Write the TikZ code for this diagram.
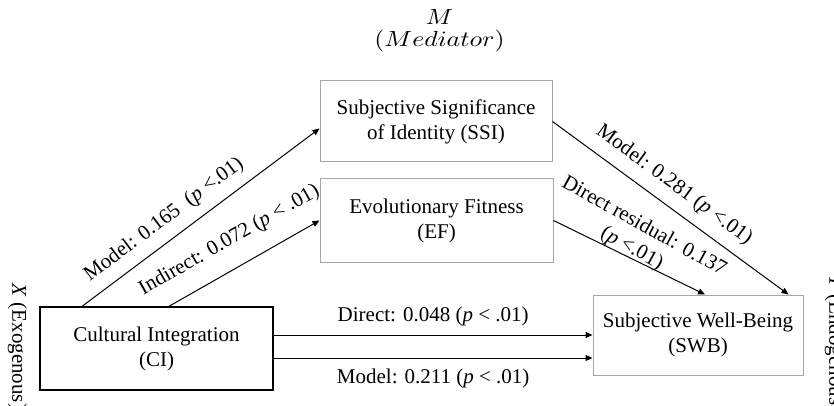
\documentclass[tikz,border=0pt]{standalone}
\usepackage{fontspec}
\usepackage{graphicx}
\setmainfont{Liberation Serif}
\usetikzlibrary{arrows.meta,calc}
\begin{document}
\begin{tikzpicture}[x=0.5pt,y=-0.5pt,
  every node/.style={font=\fontsize{10.5}{12.5}\selectfont},
  graybox/.style={draw=gray!70, line width=0.5pt, align=center, inner sep=0pt},
  blackbox/.style={draw=black, line width=0.8pt, align=center, inner sep=0pt},
  conn/.style={draw=black, line width=0.5pt, -{Triangle[length=3.5pt,width=3pt]}},
  lbl/.style={inner sep=0pt, sloped, align=center}]
\useasboundingbox (0,0) rectangle (834,406);
% boxes
\node[graybox, minimum width=116pt, minimum height=40.5pt] (ssi) at (436,121.5) {Subjective Significance\\of Identity (SSI)};
\node[graybox, minimum width=116.5pt, minimum height=41.5pt] (ef) at (436.5,220.5) {Evolutionary Fitness\\(EF)};
\node[blackbox, minimum width=116.5pt, minimum height=41.5pt] (ci) at (156.5,348.5) {Cultural Integration\\(CI)};
\node[graybox, minimum width=105pt, minimum height=40pt] (swb) at (698,335) {Subjective Well-Being\\(SWB)};
% side labels
\node[align=center, font=\fontsize{11}{11}\selectfont] (med) at (439.5,31) {\scalebox{1.15}[1]{$M$}\\\scalebox{1.18}[1]{$(Mediator)$}};
\node[rotate=-90, inner sep=0pt] (xlab) at (17.5,347) {\textit{X} (Exogenous)};
\node[rotate=-90, inner sep=0pt] (ylab) at (834.5,344) {\textit{Y} (Endogenous)};
% connectors
\draw[conn] ($(ci.north west)+(43,0)$) -- ($(ssi.west)+(0,7)$)
  node[lbl, pos=0.396, above=5pt] {Model: 0.165\ \ (\textit{p} <.01)};
\draw[conn] ($(ci.north west)+(130,0)$) -- (ef.west)
  node[lbl, pos=0.49, above=8.6pt] {Indirect: 0.072 (\textit{p} < .01)};
\coordinate (d1) at ($(ci.east)+(0,-13.5)$);
\draw[conn] (d1) -- (d1 -| swb.west)
  node[midway, above=4.2pt, inner sep=0pt] {Direct: 0.048 (\textit{p} < .01)};
\coordinate (m1) at ($(ci.east)+(0,9.5)$);
\draw[conn] (m1) -- (m1 -| swb.west)
  node[midway, below=5.2pt, inner sep=0pt] {Model: 0.211 (\textit{p} < .01)};
\draw[conn] (ssi.east) -- ($(swb.north east)+(-15,0)$)
  node[lbl, pos=0.464, above=5.3pt] {Model: 0.281 (\textit{p} <.01)};
\draw[conn] (ef.east) -- ($(swb.north)+(7,0)$) coordinate[pos=0.49] (drp);
\node[inner sep=0pt, align=center, rotate=-29] (drlab) at ($(drp)+(10,-19)$) {Direct residual: 0.137\\(\textit{p} <.01)};
\end{tikzpicture}
\end{document}
